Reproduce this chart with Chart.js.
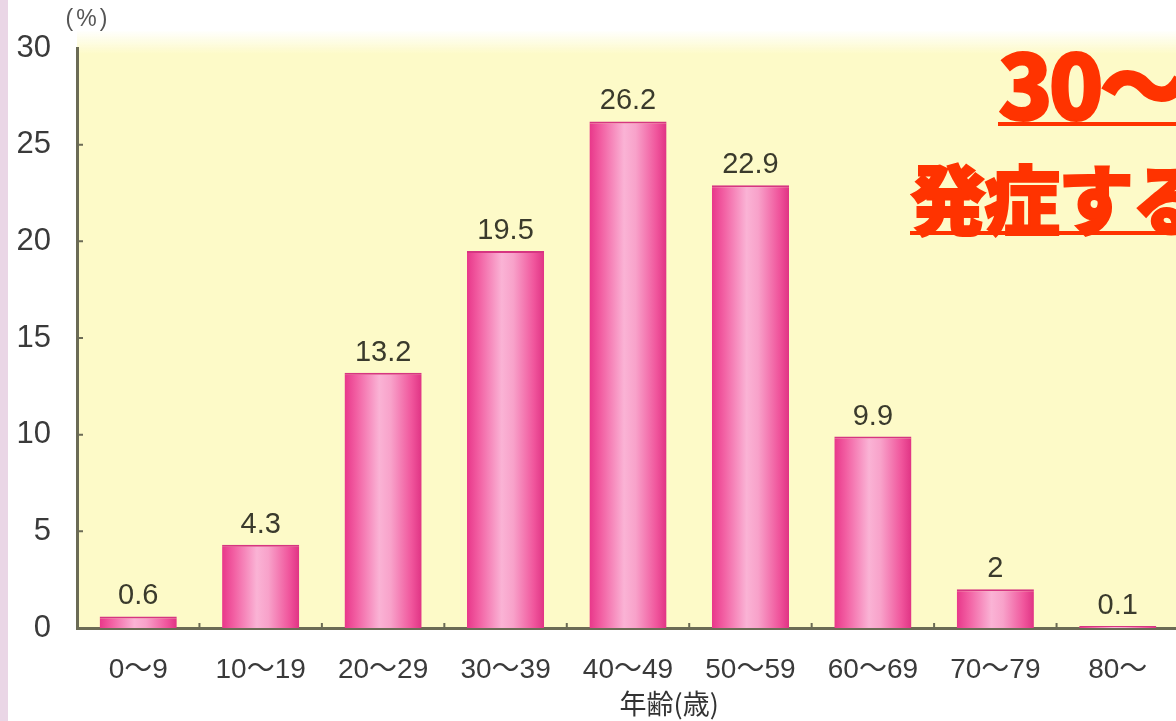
<!DOCTYPE html>
<html lang="ja">
<head>
<meta charset="utf-8">
<title>年齢別 発症割合</title>
<script src="https://cdn.jsdelivr.net/npm/chart.js@4/dist/chart.umd.min.js"></script>
<style>
  html, body { margin: 0; padding: 0; background: #fff; overflow: hidden; }
  #wrap { position: relative; width: 1176px; height: 721px; overflow: hidden; }
  #ageChart { position: absolute; left: 0; top: 0; }
  #strip { position: absolute; left: 0; top: 0; width: 8px; height: 721px; background: #ead6e6; }
  .hl {
    position: absolute; white-space: nowrap; line-height: 1;
    color: #ff3300; -webkit-text-stroke: 2px #ff3300;
    font-family: "Noto Sans CJK JP", sans-serif; font-weight: 900;
    text-decoration: underline; text-decoration-color: #ff3300;
    text-decoration-thickness: 4px; text-underline-offset: 2px;
  }
  #hl1 { left: 998px; top: 36px; font-size: 90px; letter-spacing: -4px; }
  #hl2 { left: 910px; top: 158px; font-size: 76px; letter-spacing: -2px; }
</style>
</head>
<body>
<div id="wrap">
  <canvas id="ageChart" width="1200" height="721"></canvas>
  <div id="strip"></div>
  <div class="hl" id="hl1">30〜</div>
  <div class="hl" id="hl2">発症する</div>
</div>
<script>
// 年齢階級ごとの割合(%)
const ageLabels = ["0〜9", "10〜19", "20〜29", "30〜39", "40〜49", "50〜59", "60〜69", "70〜79", "80〜"];
const shares = [0.6, 4.3, 13.2, 19.5, 26.2, 22.9, 9.9, 2, 0.1];
const yTicks = [0, 5, 10, 15, 20, 25, 30];
const unitLabel = "(%)";
const axisTitle = "年齢(歳)";

const axisColor = "#6b6b55";
const textFont = "'Liberation Sans', 'Noto Sans CJK JP', sans-serif";
const barPct = 0.63;

// 円柱っぽく見せる横方向のグラデーション
function barFill(c) {
  const chart = c.chart;
  if (!chart.chartArea || c.dataIndex === undefined) return "#f06aa8";
  const xs = chart.scales.x;
  const cx = xs.getPixelForValue(c.dataIndex);
  const w = (xs.width / ageLabels.length) * barPct;
  const g = chart.ctx.createLinearGradient(cx - w / 2, 0, cx + w / 2, 0);
  g.addColorStop(0, "#e8378a");
  g.addColorStop(0.15, "#f25ea2");
  g.addColorStop(0.45, "#fab3d5");
  g.addColorStop(0.6, "#f8a2ca");
  g.addColorStop(0.87, "#f0559c");
  g.addColorStop(1, "#e03384");
  return g;
}

// 薄い黄色の背景
const plotBg = {
  id: "plotBg",
  beforeDraw(chart) {
    const { ctx, chartArea: a } = chart;
    const g = ctx.createLinearGradient(0, a.top - 18, 0, a.top + 6);
    g.addColorStop(0, "rgba(253,250,200,0)");
    g.addColorStop(1, "#fdfac8");
    ctx.save();
    ctx.fillStyle = g;
    ctx.fillRect(a.left, a.top - 18, a.right - a.left, a.bottom - a.top + 18);
    ctx.restore();
  }
};

// 内向きの目盛り線、棒の上の数値、単位と軸タイトル
const marks = {
  id: "marks",
  afterDatasetsDraw(chart) {
    const { ctx, chartArea: a } = chart;
    const xs = chart.scales.x, ys = chart.scales.y;
    ctx.save();
    ctx.strokeStyle = axisColor;
    ctx.lineWidth = 2;
    ctx.beginPath();
    for (let i = 1; i < ageLabels.length; i++) {
      const bx = (xs.getPixelForValue(i - 1) + xs.getPixelForValue(i)) / 2;
      ctx.moveTo(bx, a.bottom);
      ctx.lineTo(bx, a.bottom - 5);
    }
    yTicks.slice(1, -1).forEach(v => {
      const y = ys.getPixelForValue(v);
      ctx.moveTo(a.left, y);
      ctx.lineTo(a.left + 6, y);
    });
    ctx.stroke();

    ctx.fillStyle = "#3a3a2c";
    ctx.font = "29px " + textFont;
    ctx.textAlign = "center";
    ctx.textBaseline = "middle";
    chart.getDatasetMeta(0).data.forEach((bar, i) => {
      ctx.fillText(String(shares[i]), bar.x, bar.y - 20);
    });

    ctx.fillStyle = "#555";
    ctx.font = "23px " + textFont;
    ctx.letterSpacing = "3px";
    ctx.fillText(unitLabel, a.left + 11, 20);
    ctx.letterSpacing = "0px";

    ctx.fillStyle = "#333";
    ctx.font = "27px 'Noto Sans CJK JP', sans-serif";
    ctx.fillText(axisTitle, (xs.getPixelForValue(4) + xs.getPixelForValue(5)) / 2 - 20, 704);
    ctx.restore();
  }
};

new Chart(document.getElementById("ageChart"), {
  type: "bar",
  data: {
    labels: ageLabels,
    datasets: [{
      data: shares,
      backgroundColor: barFill,
      borderColor: "#d63582",
      borderWidth: { top: 2, left: 0, right: 0, bottom: 0 },
      borderSkipped: false,
      categoryPercentage: 1,
      barPercentage: barPct
    }]
  },
  options: {
    responsive: false,
    animation: false,
    layout: { padding: { top: 48, right: 21, bottom: 0, left: 0 } },
    plugins: { legend: { display: false }, tooltip: { enabled: false } },
    scales: {
      x: {
        grid: { display: false },
        border: { display: true, color: axisColor, width: 3 },
        ticks: { color: "#3a3a3a", font: { family: textFont, size: 28 }, padding: 17, maxRotation: 0, autoSkip: false },
        afterFit(scale) { scale.height = 93; }
      },
      y: {
        min: 0, max: 30,
        afterBuildTicks(scale) { scale.ticks = yTicks.map(v => ({ value: v })); },
        grid: { display: false },
        border: { display: true, color: axisColor, width: 3 },
        ticks: { color: "#3a3a3a", font: { family: textFont, size: 31 }, padding: 18 },
        afterFit(scale) { scale.width = 77; }
      }
    }
  },
  plugins: [plotBg, marks]
});
</script>
</body>
</html>
